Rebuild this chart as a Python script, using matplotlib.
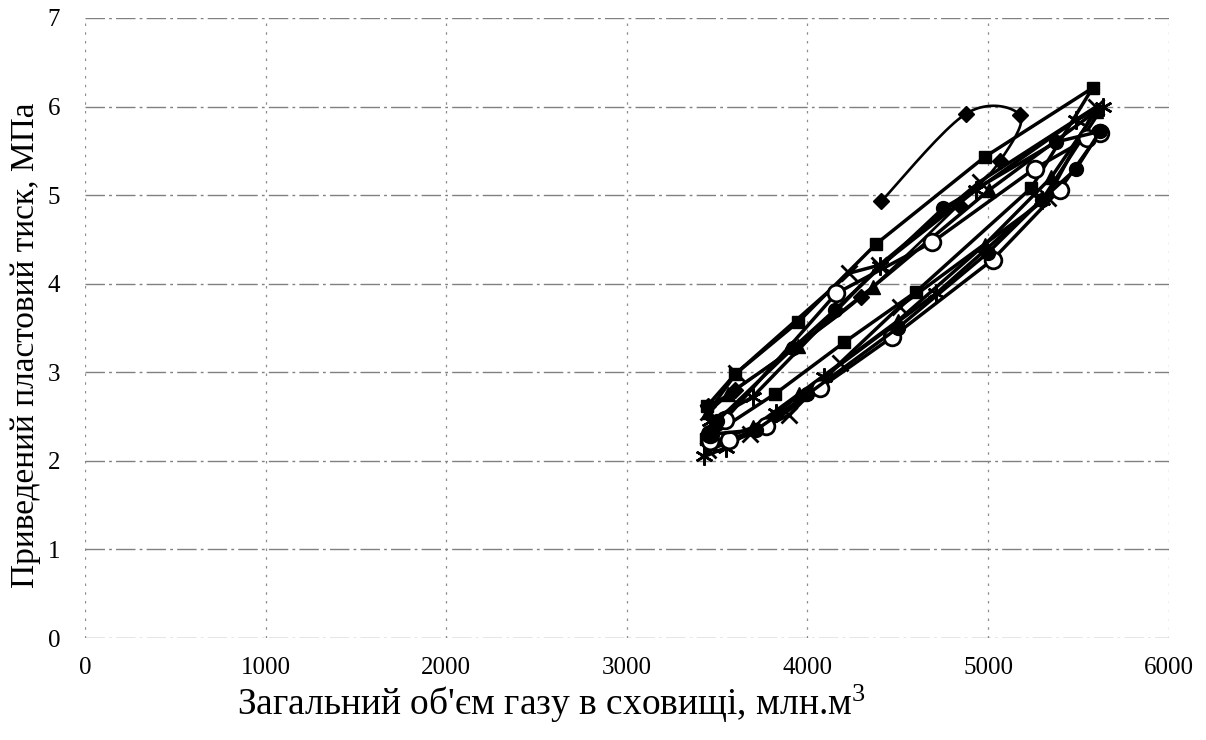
import numpy as np
import matplotlib
matplotlib.use("Agg")
import matplotlib.pyplot as plt

plt.rcParams['font.family'] = ['Liberation Serif', 'DejaVu Serif']
plt.rcParams['mathtext.fontset'] = 'custom'
plt.rcParams['mathtext.rm'] = 'Liberation Serif'
plt.rcParams['mathtext.it'] = 'Liberation Serif'

# ---- data ----
dia_x = [4409, 4879, 5178, 5064, 4837, 4298, 3918, 3600, 3450]
dia_y = [4.93, 5.92, 5.90, 5.38, 4.89, 3.85, 3.27, 2.80, 2.62]

sq_x = [3440, 3823, 4205, 4602, 5239, 5579, 4981, 4381, 3950, 3600, 3445]
sq_y = [2.25, 2.76, 3.34, 3.91, 5.08, 6.21, 5.43, 4.45, 3.57, 2.98, 2.62]

tri_x = [3460, 3700, 3956, 4500, 4981, 5350, 5600, 5008, 4361, 3950, 3560, 3450]
tri_y = [2.20, 2.38, 2.76, 3.58, 4.44, 5.20, 5.95, 5.06, 3.96, 3.30, 2.75, 2.55]

x_x = [3450, 3680, 3900, 4178, 4510, 5330, 5600, 4953, 4399, 4233, 3606, 3450]
x_y = [2.12, 2.30, 2.52, 3.10, 3.74, 4.97, 6.00, 5.15, 4.21, 4.12, 2.99, 2.55]

st_x = [3430, 3550, 3827, 4090, 4713, 5300, 5636, 5489, 4935, 4400, 3696, 3460]
st_y = [2.05, 2.15, 2.54, 2.95, 3.89, 4.95, 6.00, 5.85, 5.06, 4.20, 2.72, 2.45]

oc_x = [3458, 3568, 3772, 4067, 4471, 5025, 5396, 5618, 5550, 5258, 4692, 4159, 3541, 3458]
oc_y = [2.22, 2.24, 2.39, 2.82, 3.40, 4.27, 5.06, 5.70, 5.64, 5.30, 4.47, 3.89, 2.46, 2.30]

fc_x = [3460, 3716, 4000, 4500, 5000, 5300, 5489, 5620, 5377, 4750, 4150, 3918, 3500]
fc_y = [2.30, 2.35, 2.75, 3.50, 4.35, 4.95, 5.30, 5.72, 5.60, 4.85, 3.70, 3.27, 2.45]

x_ticks = [0, 1000, 2000, 3000, 4000, 5000, 6000]
y_ticks = [0, 1, 2, 3, 4, 5, 6, 7]


def catmull_rom(xs, ys, n=20):
    p = np.column_stack([xs, ys]).astype(float)
    p = np.vstack([p[0], p, p[-1]])
    out = []
    for i in range(1, len(p) - 2):
        p0, p1, p2, p3 = p[i - 1], p[i], p[i + 1], p[i + 2]
        t = np.linspace(0, 1, n, endpoint=False)[:, None]
        pts = 0.5 * ((2 * p1) + (-p0 + p2) * t + (2 * p0 - 5 * p1 + 4 * p2 - p3) * t ** 2
                     + (-p0 + 3 * p1 - 3 * p2 + p3) * t ** 3)
        out.append(pts)
    out.append(p[-2][None, :])
    out = np.vstack(out)
    return out[:, 0], out[:, 1]


fig = plt.figure(figsize=(12.06, 7.40), dpi=100)
ax = fig.add_axes([0.0705, 0.1378, 0.8985, 0.8379])

lw = 2.5
ms = 10
sx, sy = catmull_rom(dia_x, dia_y)
ax.plot(sx, sy, color='black', lw=lw - 0.6, zorder=3)
ax.plot(dia_x, dia_y, ls='none', marker='D', ms=ms - 2, color='black', zorder=4)

ax.plot(sq_x, sq_y, color='black', lw=lw, marker='s', ms=ms - 1, zorder=3)
ax.plot(tri_x, tri_y, color='black', lw=lw, marker='^', ms=ms, zorder=3)
ax.plot(x_x, x_y, color='black', lw=lw, marker='x', ms=ms + 1, mew=2.0, zorder=3)
ax.plot(st_x, st_y, color='black', lw=lw, marker=(6, 2, 0), ms=ms + 3, mew=1.8, zorder=3)
ax.plot(oc_x, oc_y, color='black', lw=lw, marker='o', ms=ms + 2, mfc='white', mew=2.0, zorder=3)
ax.plot(fc_x, fc_y, color='black', lw=lw, marker='o', ms=ms, zorder=3)

ax.set_xlim(0, 6000)
ax.set_ylim(0, 7)
ax.set_xticks(x_ticks)
ax.set_yticks(y_ticks)
ax.tick_params(length=0, labelsize=18)
ax.tick_params(axis='y', pad=18)
ax.tick_params(axis='x', pad=14)
for s in ax.spines.values():
    s.set_visible(False)

ax.yaxis.grid(True, color='0.5', lw=1.0, ls=(0, (14, 3, 2, 3)))
ax.xaxis.grid(True, color='0.55', lw=0.9, ls=(0, (2, 5)))
ax.set_axisbelow(True)

ax.set_xlabel("Загальний об'єм газу в сховищі, млн.м$^{3}$", fontsize=27)
ax.set_ylabel("Приведений пластовий тиск, МПа", fontsize=24)
ax.xaxis.set_label_coords(0.43, -0.072)
ax.yaxis.set_label_coords(-0.041, 0.4726)

fig.savefig("out.png", dpi=100)
